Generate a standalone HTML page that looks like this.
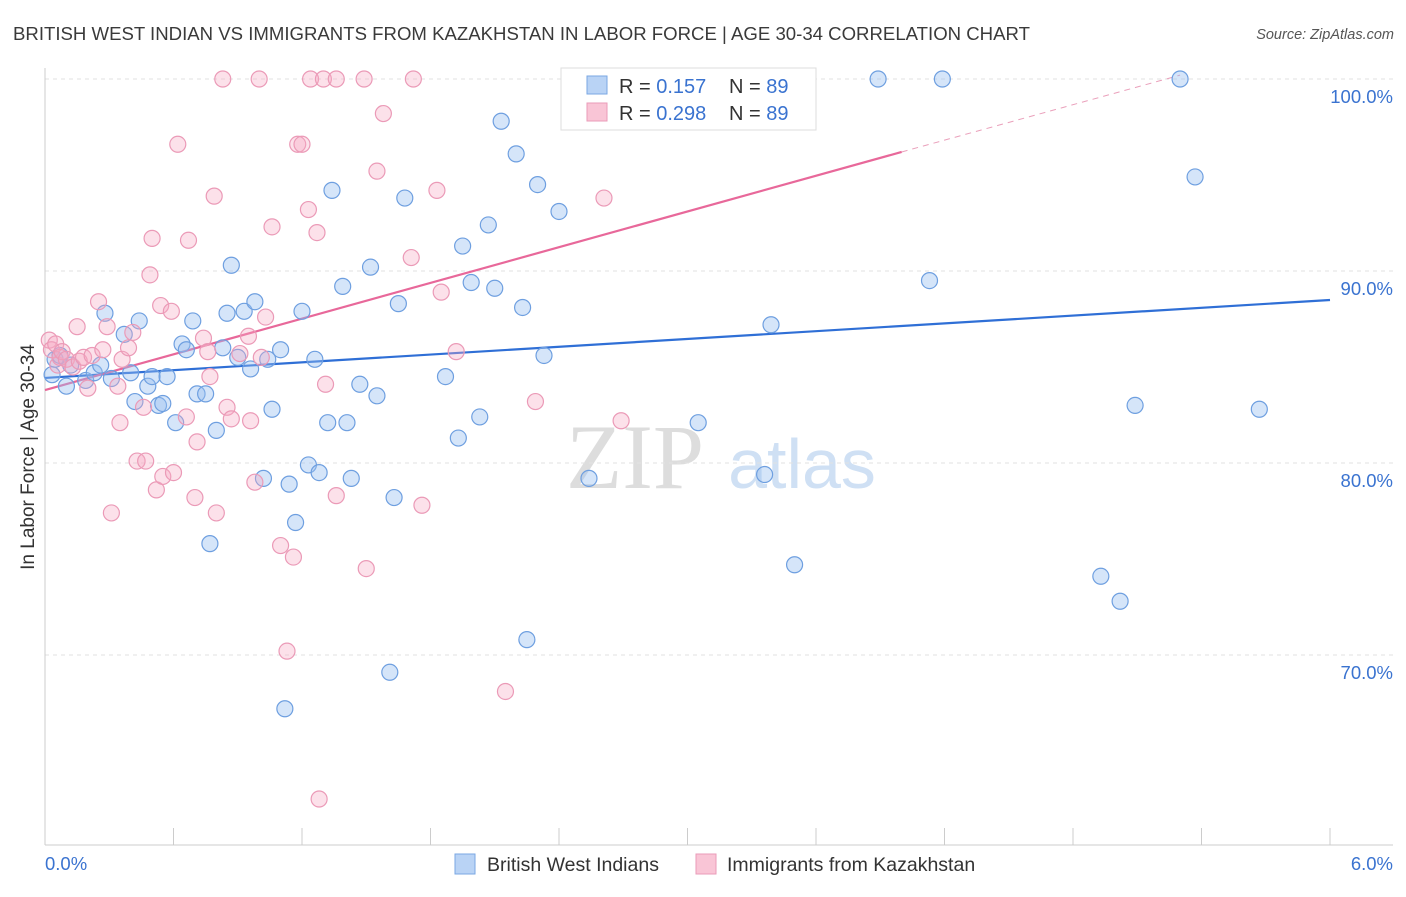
<!DOCTYPE html>
<html><head><meta charset="utf-8"><style>
body{margin:0;background:#fff;font-family:"Liberation Sans",sans-serif;}
</style></head><body>
<svg id="chart" width="1406" height="892" xmlns="http://www.w3.org/2000/svg" style="font-family:'Liberation Sans',sans-serif">
<text x="13" y="40" font-size="18.6" fill="#3a3a3a">BRITISH WEST INDIAN VS IMMIGRANTS FROM KAZAKHSTAN IN LABOR FORCE | AGE 30-34 CORRELATION CHART</text>
<text x="1394" y="39" font-size="14.5" fill="#555" text-anchor="end" font-style="italic">Source: ZipAtlas.com</text>
<text transform="translate(34,457) rotate(-90)" font-size="19" fill="#333" text-anchor="middle">In Labor Force | Age 30-34</text>
<g>
<text x="635" y="488" font-size="92" fill="#ddd" font-family="Liberation Serif" text-anchor="middle">ZIP</text>
<text x="802" y="488" font-size="70" fill="#cfe0f4" text-anchor="middle">atlas</text>
</g>
<g id="grid"></g>
<g id="axes"></g>
<g id="lines"></g>
<g id="pts"></g>
<g>
<rect x="561" y="68" width="255" height="62" fill="#fff" stroke="#ddd"/>
<rect x="587" y="76" width="20" height="18" fill="#b9d3f5" stroke="#7aa7e3"/>
<rect x="587" y="103" width="20" height="18" fill="#f9c5d6" stroke="#ea9bb8"/>
<text x="619" y="93" font-size="20" fill="#333">R = <tspan fill="#3a73d0">0.157</tspan></text>
<text x="729" y="93" font-size="20" fill="#333">N = <tspan fill="#3a73d0">89</tspan></text>
<text x="619" y="120" font-size="20" fill="#333">R = <tspan fill="#3a73d0">0.298</tspan></text>
<text x="729" y="120" font-size="20" fill="#333">N = <tspan fill="#3a73d0">89</tspan></text>
</g>
<g>
<rect x="455" y="854" width="20" height="20" fill="#b9d3f5" stroke="#7aa7e3"/>
<text x="487" y="871" font-size="19.5" fill="#333">British West Indians</text>
<rect x="696" y="854" width="20" height="20" fill="#f9c5d6" stroke="#ea9bb8"/>
<text x="727" y="871" font-size="19.5" fill="#333">Immigrants from Kazakhstan</text>
</g>
</svg>
<script>
const xTicks=[0,0.6,1.2,1.8,2.4,3.0,3.6,4.2,4.8,5.4,6.0];
const yTicks=[100,90,80,70];
const yTickLabels=["100.0%","90.0%","80.0%","70.0%"];
const blueX=[.033,.047,.07,.1,.12,.19,.23,.26,.28,.31,.37,.4,.42,.44,.48,.5,.53,.55,.57,.61,.64,.66,.69,.71,.75,.77,.8,.83,.85,.87,.9,.93,.96,.98,1.02,1.04,1.06,1.1,1.12,1.14,1.17,1.2,1.23,1.26,1.28,1.32,1.34,1.39,1.41,1.43,1.47,1.52,1.55,1.61,1.63,1.65,1.68,1.87,1.93,1.95,1.99,2.03,2.07,2.1,2.13,2.2,2.23,2.25,2.3,2.33,2.4,2.54,3.05,3.36,3.39,3.5,3.89,4.13,4.19,4.93,5.02,5.09,5.3,5.37,5.67];
const blueY=[84.6,85.4,85.6,84.0,85.1,84.3,84.7,85.1,87.8,84.4,86.7,84.7,83.2,87.4,84.0,84.5,83.0,83.1,84.5,82.1,86.2,85.9,87.4,83.6,83.6,75.8,81.7,86.0,87.8,90.3,85.5,87.9,84.9,88.4,79.2,85.4,82.8,85.9,67.2,78.9,76.9,87.9,79.9,85.4,79.5,82.1,94.2,89.2,82.1,79.2,84.1,90.2,83.5,69.1,78.2,88.3,93.8,84.5,81.3,91.3,89.4,82.4,92.4,89.1,97.8,96.1,88.1,70.8,94.5,85.6,93.1,79.2,82.1,79.4,87.2,74.7,100,89.5,100,74.1,72.8,83.0,100,94.9,82.8];
const pinkX=[.02,.03,.05,.06,.07,.08,.1,.13,.15,.16,.18,.2,.22,.25,.27,.29,.31,.34,.35,.36,.39,.41,.43,.46,.47,.49,.5,.52,.54,.55,.59,.6,.62,.66,.67,.7,.71,.74,.76,.77,.79,.8,.83,.85,.87,.91,.95,.96,.98,1.0,1.01,1.03,1.06,1.1,1.13,1.16,1.18,1.2,1.23,1.24,1.27,1.28,1.3,1.31,1.36,1.36,1.49,1.5,1.55,1.58,1.71,1.72,1.76,1.83,1.85,1.92,2.15,2.29,2.61,2.69,3.38];
const pinkY=[86.4,85.9,86.2,85.1,85.5,85.8,85.4,85.0,87.1,85.3,85.5,83.9,85.6,88.4,85.9,87.1,77.4,84.0,82.1,85.4,86.0,86.8,80.1,82.9,80.1,89.8,91.7,78.6,88.2,79.3,87.9,79.5,96.6,82.4,91.6,78.2,81.1,86.5,85.8,84.5,93.9,77.4,100,82.9,82.3,85.7,86.6,82.2,79.0,100,85.5,87.6,92.3,75.7,70.2,75.1,96.6,96.6,93.2,100,92.0,62.5,100,84.1,100,78.3,100,74.5,95.2,98.2,90.7,100,77.8,94.2,88.9,85.8,68.1,83.2,93.8,82.2,100];
const blueTrend=[84.43,88.49];
const pinkTrend=[83.8,96.2,100.2];
const pinkTrendX=[0,4.0,5.3];
const X=v=>45+v/6*1285, Y=v=>79+(100-v)*19.2;
const NS="http://www.w3.org/2000/svg";
function mk(p,t,a){const e=document.createElementNS(NS,t);for(const k in a)e.setAttribute(k,a[k]);document.getElementById(p).appendChild(e);return e;}
yTicks.forEach((t,i)=>{
 const g=mk('grid','line',{x1:45,x2:1393,y1:Y(t),y2:Y(t),stroke:'#e2e2e2','stroke-dasharray':'4,4'});
 
 
 const l=mk('axes','text',{x:1393,y:Y(t)+24,'font-size':18.5,fill:'#3a73d0','text-anchor':'end'});
 l.textContent=yTickLabels[i];
 
 
});
const ax=mk('axes','line',{x1:45,x2:45,y1:68,y2:845,stroke:'#ccc'});


const bx=mk('axes','line',{x1:45,x2:1393,y1:845,y2:845,stroke:'#ccc'});


xTicks.forEach(t=>{
 const k=mk('axes','line',{x1:X(t),x2:X(t),y1:828,y2:845,stroke:'#ccc'});
 
 
});
const xl0=mk('axes','text',{x:45,y:870,'font-size':18.5,fill:'#3a73d0'});xl0.textContent="0.0%";


const xl1=mk('axes','text',{x:1393,y:870,'font-size':18.5,fill:'#3a73d0','text-anchor':'end'});xl1.textContent="6.0%";


blueX.forEach((x,i)=>{
 const c=mk('pts','circle',{cx:X(x),cy:Y(blueY[i]),r:8,fill:'rgba(150,190,240,0.4)',stroke:'#6e9fe0','stroke-width':1.2});
 
 
});
pinkX.forEach((x,i)=>{
 const c=mk('pts','circle',{cx:X(x),cy:Y(pinkY[i]),r:8,fill:'rgba(245,170,195,0.35)',stroke:'#eb9ab7','stroke-width':1.2});
 
 
});
const bl=mk('lines','line',{x1:X(0),y1:Y(blueTrend[0]),x2:X(6),y2:Y(blueTrend[1]),stroke:'#2f6fd6','stroke-width':2.2});


const pl=mk('lines','line',{x1:X(pinkTrendX[0]),y1:Y(pinkTrend[0]),x2:X(pinkTrendX[1]),y2:Y(pinkTrend[1]),stroke:'#e8689a','stroke-width':2.2});


const pd=mk('lines','line',{x1:X(pinkTrendX[1]),y1:Y(pinkTrend[1]),x2:X(pinkTrendX[2]),y2:Y(pinkTrend[2]),stroke:'#eaa0bb','stroke-width':1,'stroke-dasharray':'6,5'});


</script>
</body></html>
